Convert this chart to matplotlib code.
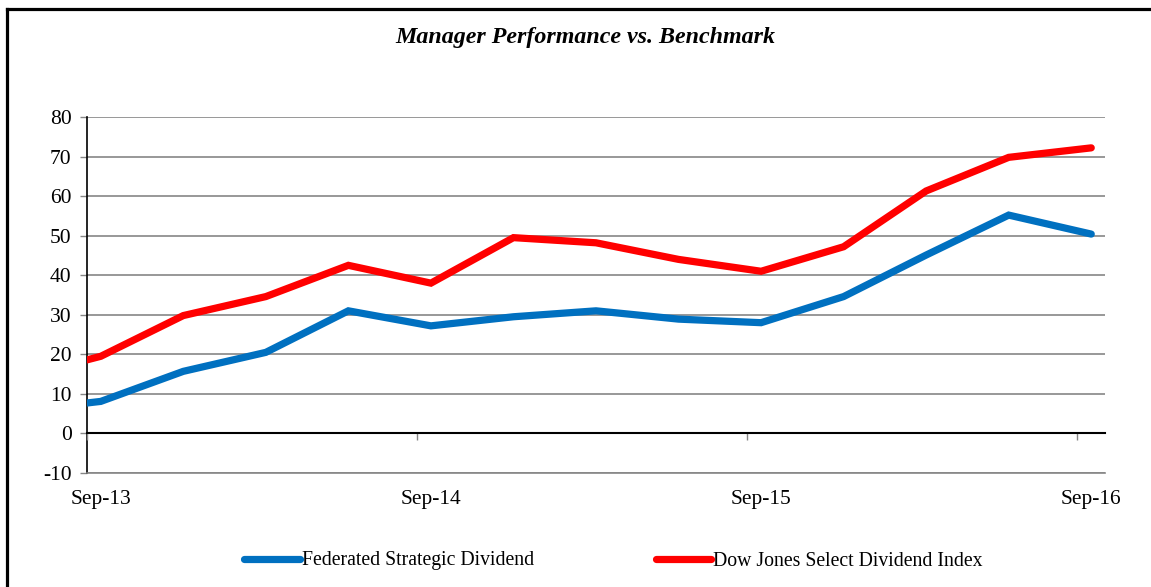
import matplotlib
matplotlib.use("Agg")
import matplotlib.pyplot as plt
from matplotlib.lines import Line2D

# months after Sep-13 for each data point
months = [0, 0.5, 3.5, 6.5, 9.5, 12.5, 15.5, 18.5, 21.5, 24.5, 27.5, 30.5, 33.5, 36.5]
federated = [7.7, 8.1, 15.7, 20.5, 31.0, 27.2, 29.5, 31.0, 28.9, 28.0, 34.6, 45.1, 55.2, 50.4]
dow_jones = [18.6, 19.5, 29.8, 34.6, 42.5, 38.0, 49.5, 48.2, 44.0, 41.0, 47.2, 61.3, 69.8, 72.2]

year_ticks = [0, 12, 24, 36]
label_pos = [0.5, 12.5, 24.5, 36.5]
tick_labels = ["Sep-13", "Sep-14", "Sep-15", "Sep-16"]

plt.rcParams["font.family"] = ["Liberation Serif", "DejaVu Serif"]
plt.rcParams["axes.unicode_minus"] = False

fig = plt.figure(figsize=(11.51, 5.87), dpi=100)
ax = fig.add_axes([87 / 1151, 1 - 473 / 587, (1105 - 87) / 1151, (473 - 117) / 587])

grid_col = "#868686"
ax.plot(months, federated, color="#0070C0", lw=5.2, solid_capstyle="round",
        solid_joinstyle="miter", label="Federated Strategic Dividend", zorder=3)
ax.plot(months, dow_jones, color="#FF0000", lw=5.2, solid_capstyle="round",
        solid_joinstyle="miter", label="Dow Jones Select Dividend Index", zorder=3)

ymin, ymax = -10, 80
ax.set_xlim(0, 37)
ax.set_ylim(ymin, ymax)
ax.set_yticks(range(-10, 81, 10))
ax.yaxis.grid(True, color=grid_col, lw=1.2)
ax.set_axisbelow(True)

for s in ["top", "right"]:
    ax.spines[s].set_visible(False)
ax.spines["left"].set_color("black")
ax.spines["left"].set_linewidth(1.2)
ax.spines["bottom"].set_color(grid_col)
ax.spines["bottom"].set_linewidth(1.2)

ax.tick_params(axis="y", length=5, width=1, color=grid_col, labelsize=15.5, pad=6)
ax.set_xticks(year_ticks)
ax.set_xticklabels([])
ax.set_xticks(label_pos, minor=True)
ax.set_xticklabels(tick_labels, minor=True)
ax.tick_params(axis="x", which="major", length=0)
ax.tick_params(axis="x", which="minor", length=0, labelsize=15.5, pad=12)

# category axis crossing at zero
zero_axis = ax.secondary_xaxis((0 - ymin) / (ymax - ymin))
zero_axis.set_zorder(2.5)
zero_axis.set_xticks(year_ticks)
zero_axis.set_xticklabels([])
zero_axis.spines["bottom"].set_color("black")
zero_axis.spines["bottom"].set_linewidth(1.5)
zero_axis.tick_params(length=5, width=1, color=grid_col)

fig.text(585 / 1151, 1 - 38 / 587, "Manager Performance vs. Benchmark",
         ha="center", va="center", fontsize=17.3, fontweight="bold", fontstyle="italic")

fig.legend(loc="center", bbox_to_anchor=(613.5 / 1151, 1 - 561 / 587), ncol=2,
           frameon=False, fontsize=14.2, handlelength=2.8, handletextpad=0.1,
           columnspacing=6.2)

# frame round the figure
fig.add_artist(Line2D([7.5 / 1151, 1], [1 - 8.5 / 587, 1 - 8.5 / 587], color="black", lw=2.3))
fig.add_artist(Line2D([7.5 / 1151, 7.5 / 1151], [0, 1 - 8.5 / 587], color="black", lw=2.3))

fig.savefig("out.png", dpi=100)
